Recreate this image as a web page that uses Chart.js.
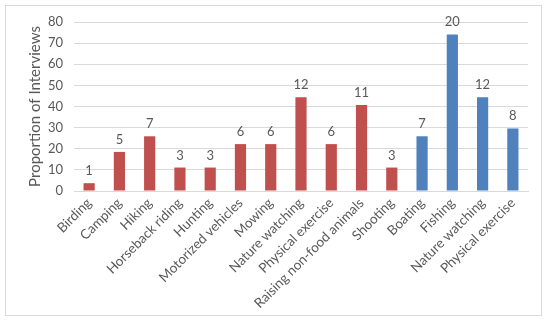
<!DOCTYPE html>
<html><head><meta charset="utf-8">
<script src="https://cdn.jsdelivr.net/npm/chart.js@4/dist/chart.umd.min.js"></script>
<style>
html,body{margin:0;padding:0;background:#fff;}
#wrap{position:relative;width:550px;height:324px;}
#frame{position:absolute;left:5px;top:5px;width:537px;height:311px;border:1px solid #D9D9D9;box-sizing:border-box;}
canvas{position:absolute;left:0;top:0;}
</style></head>
<body>
<div id="wrap"><div id="frame"></div><canvas id="c" width="550" height="324"></canvas></div>
<script>
const categories = ["Birding","Camping","Hiking","Horseback riding","Hunting","Motorized vehicles","Mowing","Nature watching","Physical exercise","Raising non-food animals","Shooting","Boating","Fishing","Nature watching","Physical exercise"];
const proportions = [3.7,18.5,25.9,11.1,11.1,22.2,22.2,44.4,22.2,40.7,11.1,25.9,74.1,44.4,29.6];
const counts = [1,5,7,3,3,6,6,12,6,11,3,7,20,12,8];
const groups = ["red","red","red","red","red","red","red","red","red","red","red","blue","blue","blue","blue"];
const yTicks = [0,10,20,30,40,50,60,70,80];

const colorMap = {red:"#C0504D", blue:"#4F81BD"};
const FONT = "Lato, 'Liberation Sans', sans-serif";

const countLabels = {
  id:"countLabels",
  afterDatasetsDraw(chart){
    const ctx = chart.ctx;
    const meta = chart.getDatasetMeta(0);
    ctx.save();
    ctx.fillStyle = "#595959";
    ctx.font = "13px " + FONT;
    ctx.textAlign = "center";
    ctx.textBaseline = "alphabetic";
    meta.data.forEach((bar,i)=>{
      ctx.fillText(String(counts[i]), bar.x, bar.y - 8);
    });
    ctx.restore();
  }
};

new Chart(document.getElementById("c"),{
  type:"bar",
  data:{
    labels:categories,
    datasets:[{
      data:proportions,
      backgroundColor:groups.map(g=>colorMap[g]),
      borderWidth:0,
      barPercentage:0.37,
      categoryPercentage:1
    }]
  },
  options:{
    responsive:false,
    animation:false,
    devicePixelRatio:1,
    layout:{padding:{left:0,right:22,top:22,bottom:0}},
    plugins:{legend:{display:false},tooltip:{enabled:false}},
    scales:{
      x:{
        grid:{display:false,drawTicks:false},
        border:{display:true,color:"#D9D9D9"},
        ticks:{color:"#595959",font:{family:FONT,size:13.5},maxRotation:45,minRotation:45,autoSkip:false,padding:4},
        afterFit(s){s.height=133;}
      },
      y:{
        min:0,max:80,
        grid:{color:"#D9D9D9",drawTicks:false},
        border:{display:false},
        afterBuildTicks(s){s.ticks=yTicks.map(v=>({value:v}));},
        ticks:{color:"#595959",font:{family:FONT,size:13},padding:11},
        title:{display:true,text:"Proportion of Interviews",color:"#595959",font:{family:FONT,size:15},padding:{top:26,bottom:0}},
        afterFit(s){s.width=74;}
      }
    }
  },
  plugins:[countLabels]
});
</script>
</body></html>
